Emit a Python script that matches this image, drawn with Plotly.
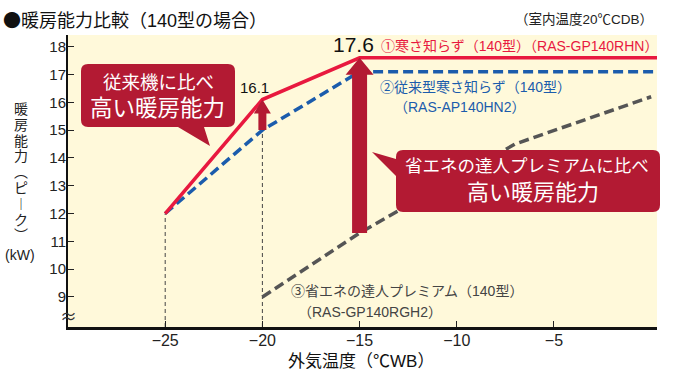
import plotly.graph_objects as go

# ---- data ----
x_red = [-25, -20, -15, 0.3]
y_red = [12.0, 16.1, 17.6, 17.6]
x_blue = [-25, -20, -15, 0.3]
y_blue = [12.0, 15.0, 17.1, 17.1]
x_gray = [-20, -15, -7, 0]
y_gray = [9.0, 11.3, 14.5, 16.2]
x_ticks = [-25, -20, -15, -10, -5]
y_ticks = [9, 10, 11, 12, 13, 14, 15, 16, 17, 18]
name_red = "①寒さ知らず（140型）（RAS-GP140RHN）"
name_blue = ["②従来型寒さ知らず（140型）", "（RAS-AP140HN2）"]
name_gray = ["③省エネの達人プレミアム（140型）", "（RAS-GP140RGH2）"]

# ---- layout geometry ----
W, H = 700, 377
L, R, T, B = 68, 43, 35, 50
XR = [-30, 0.3]
YR = [7.92, 18.42]
pw, ph = W - L - R, H - T - B
ux = (XR[1] - XR[0]) / pw
uy = (YR[1] - YR[0]) / ph

def px(x):
    return (x - L) / pw

def py(y):
    return 1 - (y - T) / ph

FONT = "Liberation Sans, Arial, Noto Sans CJK JP, sans-serif"
CJK = "Noto Sans CJK JP, sans-serif"
RED = "#E8193F"
BLUE = "#1B5CAC"
GRAY = "#555555"
DARKRED = "#B31A33"
BG = "#FFF9DA"

fig = go.Figure()
fig.add_trace(go.Scatter(x=x_gray, y=y_gray, mode="lines",
                         line=dict(color=GRAY, width=3.5, dash="10px,5px"),
                         hoverinfo="skip"))
fig.add_trace(go.Scatter(x=x_blue, y=y_blue, mode="lines",
                         line=dict(color=BLUE, width=3.5, dash="10px,5px"),
                         hoverinfo="skip"))
fig.add_trace(go.Scatter(x=x_red, y=y_red, mode="lines",
                         line=dict(color=RED, width=3.5), hoverinfo="skip"))

shapes = []
# guide lines
for xv, yv in [(x_red[0], y_red[0]), (x_blue[1], y_blue[1])]:
    shapes.append(dict(type="line", xref="x", yref="y", x0=xv, x1=xv,
                       y0=YR[0], y1=yv, layer="below",
                       line=dict(color="#444444", width=1, dash="4px,3px")))

def arrow(x, yb, yt, sw_px, hw_px, hl_px):
    sw, hw, hl = sw_px * ux, hw_px * ux, hl_px * uy
    pts = [(x - sw, yb), (x - sw, yt - hl), (x - hw, yt - hl), (x, yt),
           (x + hw, yt - hl), (x + sw, yt - hl), (x + sw, yb)]
    return "M" + " L".join(f"{a},{b}" for a, b in pts) + " Z"

shapes.append(dict(type="path", xref="x", yref="y", layer="above",
                   path=arrow(x_red[1], y_blue[1], y_red[1], 4, 8.5, 14),
                   fillcolor=DARKRED, line=dict(width=0)))
shapes.append(dict(type="path", xref="x", yref="y", layer="above",
                   path=arrow(x_red[2], y_gray[1], y_red[2], 7.5, 14, 17),
                   fillcolor=DARKRED, line=dict(width=0)))

def P(x, y):
    return f"{px(x)},{py(y)}"

def callout(x0, y0, x1, y1, r, tail_bottom=None, tail_left=None):
    s = f"M{P(x0 + r, y0)} L{P(x1 - r, y0)} Q{P(x1, y0)} {P(x1, y0 + r)} "
    s += f"L{P(x1, y1 - r)} Q{P(x1, y1)} {P(x1 - r, y1)} "
    if tail_bottom:
        a, tip, b = tail_bottom
        s += f"L{P(a, y1)} L{P(*tip)} L{P(b, y1)} "
    s += f"L{P(x0 + r, y1)} Q{P(x0, y1)} {P(x0, y1 - r)} "
    if tail_left:
        a, tip, b = tail_left
        s += f"L{P(x0, a)} L{P(*tip)} L{P(x0, b)} "
    s += f"L{P(x0, y0 + r)} Q{P(x0, y0)} {P(x0 + r, y0)} Z"
    return s

shapes.append(dict(type="path", xref="paper", yref="paper", layer="above",
                   path=callout(81, 64, 235, 127, 7,
                                tail_bottom=(204, (210, 146), 178)),
                   fillcolor=DARKRED, line=dict(width=0)))
shapes.append(dict(type="path", xref="paper", yref="paper", layer="above",
                   path=callout(396, 150, 660, 212, 7,
                                tail_left=(176, (372, 152), 159)),
                   fillcolor=DARKRED, line=dict(width=0)))

ann = []

def text(t, x, y, size, color="#222222", xanchor="center", yanchor="middle",
         family=FONT):
    ann.append(dict(text=t, x=px(x), y=py(y), xref="paper", yref="paper",
                    showarrow=False, xanchor=xanchor, yanchor=yanchor,
                    font=dict(family=family, size=size, color=color)))

text("<span style='font-family:Noto Sans CJK JP'>●</span>暖房能力比較（140型の場合）",
     1, 19, 18, "#111111", xanchor="left")
text("（室内温度20℃CDB）", 655, 20, 13.5, "#222222", xanchor="right")
text(f"{y_red[2]:.1f}", 353, 44, 21, "#111111")
text(f"{y_red[1]:.1f}", 254, 87, 15, "#111111")
text(name_red, 379, 46, 14, RED, xanchor="left")
text(name_blue[0], 378, 87, 14, BLUE, xanchor="left")
text(name_blue[1], 392, 107, 14, BLUE, xanchor="left")
text(name_gray[0], 289, 291, 14, "#444444", xanchor="left")
text(name_gray[1], 296, 312, 14, "#444444", xanchor="left")
text("従来機に比べ", 158, 82, 18.5, "white")
text("高い暖房能力", 157, 108, 22.5, "white")
text("省エネの達人プレミアムに比べ", 527, 166, 17.5, "white")
text("高い暖房能力", 533, 192, 22, "white")
text("外気温度（℃WB）", 361, 361, 17, "#111111")
text("≈", 68, 315, 17, "#333333", family=CJK)
vert = ["暖", "房", "能", "力", "︵", "ピ", "︱", "ク", "︶"]
for i, ch in enumerate(vert):
    text(ch, 21, 108 + i * 15.8, 14, "#222222", family=CJK)
text("(kW)", 20, 255, 14, "#222222")

fig.update_layout(
    width=W, height=H, margin=dict(l=L, r=R, t=T, b=B),
    paper_bgcolor="white", plot_bgcolor=BG, showlegend=False,
    shapes=shapes, annotations=ann,
    xaxis=dict(range=XR, tickvals=x_ticks, ticks="inside", ticklen=6,
               tickcolor="#222222", showline=True, linecolor="#111111",
               linewidth=2.5, showgrid=False, zeroline=False,
               ticklabelstandoff=-3,
               tickfont=dict(family=FONT, size=16, color="#222222")),
    yaxis=dict(range=YR, tickvals=y_ticks, ticks="inside", ticklen=6,
               tickcolor="#222222", showline=True, linecolor="#111111",
               linewidth=2, showgrid=False, zeroline=False,
               ticklabelstandoff=-3,
               tickfont=dict(family=FONT, size=15, color="#222222")),
)
fig.write_html("out.html", config={"displayModeBar": False},
               post_script="document.body.style.margin='0';")
